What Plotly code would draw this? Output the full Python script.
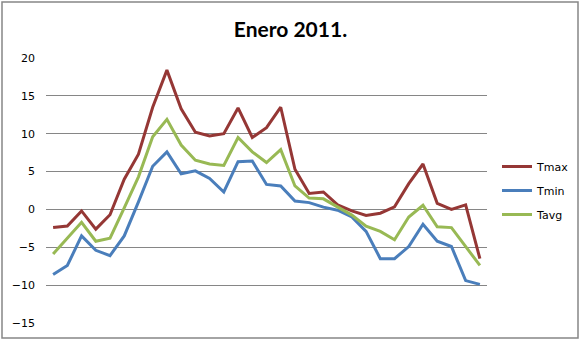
import plotly.graph_objects as go

days = list(range(1, 32))
tmax = [-2.4, -2.2, -0.2, -2.6, -0.7, 4.0, 7.3, 13.5, 18.4, 13.3, 10.2, 9.7, 10.0, 13.4,
        9.5, 10.8, 13.5, 5.3, 2.1, 2.3, 0.6, -0.2, -0.8, -0.5, 0.35, 3.4, 6.0, 0.8, 0.0, 0.6, -6.5]
tmin = [-8.6, -7.4, -3.5, -5.4, -6.1, -3.5, 1.0, 5.7, 7.6, 4.7, 5.1, 4.1, 2.3, 6.3,
        6.4, 3.3, 3.1, 1.1, 0.9, 0.3, -0.1, -1.0, -2.9, -6.5, -6.5, -4.9, -1.95, -4.2, -4.9, -9.4, -9.9]
tavg = [-5.9, -3.8, -1.7, -4.2, -3.8, 0.2, 4.3, 9.6, 11.9, 8.5, 6.5, 6.0, 5.8, 9.5,
        7.6, 6.2, 7.9, 3.1, 1.5, 1.4, 0.35, -0.75, -2.2, -2.9, -4.0, -1.0, 0.55, -2.3, -2.4, -4.9, -7.4]
yticks = [-15, -10, -5, 0, 5, 10, 15, 20]

series = [("Tmax", tmax, "#953735"), ("Tmin", tmin, "#4A7EBB"), ("Tavg", tavg, "#98B954")]

fig = go.Figure()
for name, vals, col in series:
    fig.add_trace(go.Scatter(x=[str(d) for d in days], y=vals, mode="lines", name=name,
                             legendgroup=name,
                             line=dict(color=col, width=3)))

W, H = 581, 341
L, R, T, B = 46, 94, 58, 18
pw, ph = W - L - R, H - T - B

def px_x(v):
    return (v - L) / pw

def px_y(v):
    return (H - B - v) / ph

fig.update_layout(
    width=W, height=H,
    margin=dict(l=L, r=R, t=T, b=B, autoexpand=False),
    paper_bgcolor="white", plot_bgcolor="white",
    title=dict(text="<b>Enero 2011.</b>", x=0.5, xanchor="center", y=1 - 30 / H, yanchor="middle",
               font=dict(family="Lato", size=21, color="black")),
    showlegend=True,
    legend=dict(x=px_x(497), y=px_y(152), xanchor="left", yanchor="top",
                font=dict(family="DejaVu Sans", size=11, color="black"),
                itemwidth=30, tracegroupgap=5, traceorder="grouped",
                bgcolor="rgba(0,0,0,0)"),
    xaxis=dict(type="category", showticklabels=False, showgrid=False, zeroline=False,
               showline=False, ticks="", range=[-0.5, 30.5]),
    yaxis=dict(range=[-15, 20], tickvals=yticks, showgrid=True, gridcolor="#868686", gridwidth=1,
               zeroline=False, showline=False, ticks="", ticklabelstandoff=10,
               tickfont=dict(family="DejaVu Sans", size=11, color="black")),
    shapes=[dict(type="rect", xref="paper", yref="paper",
                 x0=px_x(2), x1=px_x(578), y0=px_y(338), y1=px_y(2),
                 line=dict(color="#868686", width=1.5), fillcolor="rgba(0,0,0,0)", layer="below")],
)

fig.write_html("out.html")
